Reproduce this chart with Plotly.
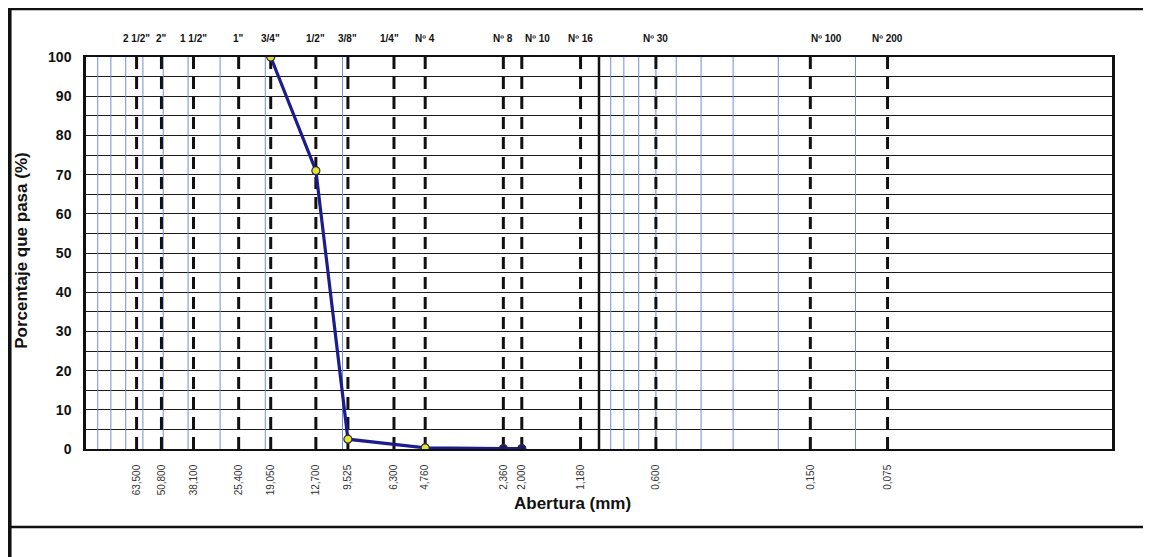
import math
import plotly.graph_objects as go

# ---- data ----
sieve_sizes_mm = [63.5, 50.8, 38.1, 25.4, 19.05, 12.7, 9.525, 6.3, 4.76, 2.36, 2.0, 1.18, 0.6, 0.15, 0.075]
sieve_names = ['2 1/2"', '2"', '1 1/2"', '1"', '3/4"', '1/2"', '3/8"', '1/4"', 'Nº 4', 'Nº 8', 'Nº 10', 'Nº 16', 'Nº 30', 'Nº 100', 'Nº 200']
size_labels = ['63,500', '50,800', '38,100', '25,400', '19,050', '12,700', '9,525', '6,300', '4,760',
               '2,360', '2,000', '1,180', '0,600', '0,150', '0,075']

sample_sizes_mm = [19.05, 12.7, 9.525, 4.76, 2.36, 2.0]
percent_passing = [100, 71, 2.5, 0.3, 0.1, 0.1]

minor_grid_mm = [90, 80, 70, 60, 50, 40, 30, 20, 10, 0.9, 0.8, 0.7, 0.6, 0.5, 0.4, 0.3, 0.2, 0.1]
major_line_mm = [1.0]

# label pixel nudges (style only)
name_shift_px = [0, 0, 0, 0, 0, 0, 0, -4, 0, 0, 16, 0, 0, 16, 0]

Y_MIN, Y_MAX = 0, 100

def vlines(xs):
    X, Y = [], []
    for v in xs:
        X += [v, v, None]
        Y += [Y_MAX, Y_MIN, None]
    return X, Y

fig = go.Figure()

mx, my = vlines(minor_grid_mm)
fig.add_trace(go.Scatter(x=mx, y=my, mode="lines", line=dict(color="#6f8fd6", width=1),
                         hoverinfo="skip", showlegend=False))
bx, by = vlines(major_line_mm)
fig.add_trace(go.Scatter(x=bx, y=by, mode="lines", line=dict(color="#111111", width=2.5),
                         hoverinfo="skip", showlegend=False))
sx, sy = vlines(sieve_sizes_mm)
fig.add_trace(go.Scatter(x=sx, y=sy, mode="lines",
                         line=dict(color="#111111", width=3, dash="12px,8px"),
                         hoverinfo="skip", showlegend=False))
marker_fill = ["#e6e62a", "#e6e62a", "#e6e62a", "#e6e62a", "#1b1b6e", "#1b1b6e"]
fig.add_trace(go.Scatter(x=sample_sizes_mm, y=percent_passing, mode="lines+markers",
                         line=dict(color="#1c1c8c", width=3.2),
                         marker=dict(size=8, color=marker_fill, line=dict(color="#2a2a40", width=1.2)),
                         showlegend=False))

annotations = [
    dict(text="<b>Abertura (mm)</b>", xref="paper", yref="paper", x=0.474, y=-0.14,
         xanchor="center", yanchor="middle", showarrow=False,
         font=dict(size=17, color="#111111")),
    dict(text="<b>Porcentaje que pasa (%)</b>", xref="paper", yref="paper", x=-0.0624, y=0.508,
         xanchor="center", yanchor="middle", textangle=-90, showarrow=False,
         font=dict(size=17, color="#111111")),
]
for size, name, sh in zip(sieve_sizes_mm, sieve_names, name_shift_px):
    annotations.append(dict(text="<b>%s</b>" % name, xref="x", yref="paper", x=math.log10(size), y=1.048,
                            xanchor="center", yanchor="middle", xshift=sh, showarrow=False,
                            font=dict(size=10, color="#111111")))

fig.update_layout(
    width=1143, height=549,
    margin=dict(l=78, r=39, t=49, b=108),
    paper_bgcolor="white", plot_bgcolor="white",
    font=dict(family="Liberation Sans, Arial, sans-serif", color="#222222"),
    xaxis=dict(type="log", range=[2, -2], autorange=False,
               tickmode="array", tickvals=sieve_sizes_mm, ticktext=size_labels,
               tickangle=-90, tickfont=dict(size=10, color="#333333"),
               ticks="", ticklabelstandoff=10,
               showgrid=False, zeroline=False,
               showline=True, linecolor="#111111", linewidth=1.5, mirror=True),
    yaxis=dict(range=[Y_MIN, Y_MAX], autorange=False, dtick=10,
               tickfont=dict(size=14, color="#111111", weight="bold"),
               ticks="", ticklabelstandoff=9,
               showgrid=True, gridcolor="#1a1a1a", gridwidth=1.2,
               minor=dict(dtick=5, showgrid=True, gridcolor="#1a1a1a", gridwidth=1.2),
               zeroline=False,
               showline=True, linecolor="#111111", linewidth=2.5, mirror=True),
    annotations=annotations,
    shapes=[
        dict(type="line", xref="paper", yref="paper", x0=-0.09, x1=1.05, y0=1.1224, y1=1.1224,
             line=dict(color="#111111", width=2.5)),
        dict(type="line", xref="paper", yref="paper", x0=-0.09, x1=1.05, y0=-0.199, y1=-0.199,
             line=dict(color="#111111", width=2.5)),
        dict(type="line", xref="paper", yref="paper", x0=-0.0745, x1=-0.0745, y0=1.13, y1=-0.3,
             line=dict(color="#111111", width=4)),
    ],
)

fig.write_html("out.html")
